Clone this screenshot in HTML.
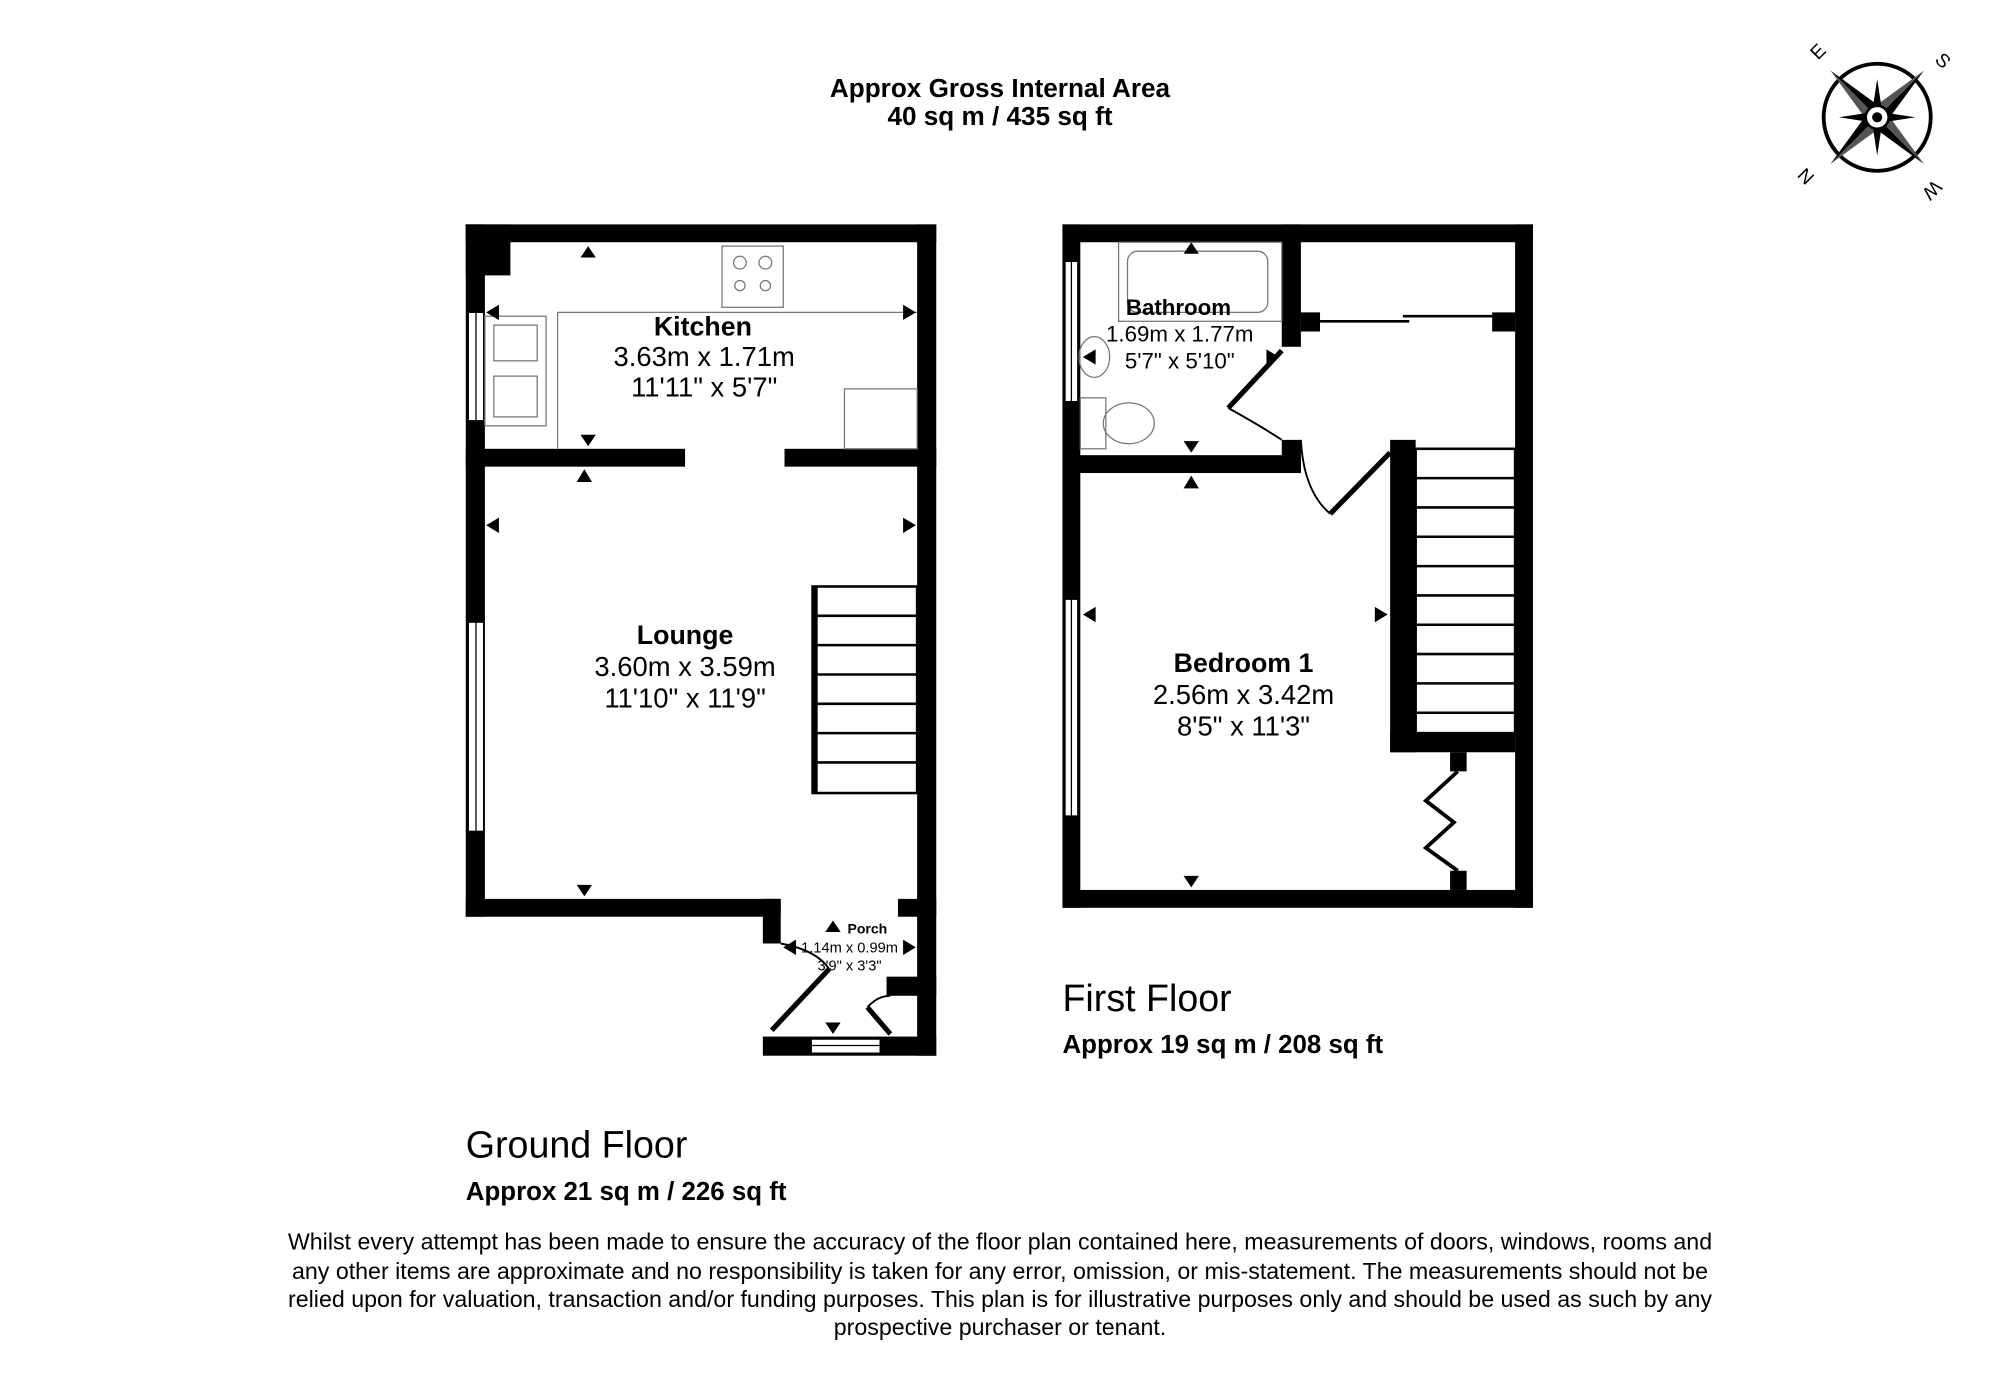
<!DOCTYPE html>
<html><head><style>html,body{margin:0;padding:0;background:#fff}svg{display:block}text{font-family:"Liberation Sans",Arial,sans-serif}</style></head>
<body>
<svg width="2000" height="1377" viewBox="0 0 1568 1080" xmlns="http://www.w3.org/2000/svg">
<rect width="1568" height="1080" fill="#fff"/>
<g text-anchor="middle" font-weight="bold" font-size="20.5">
<text x="784" y="76">Approx Gross Internal Area</text>
<text x="784" y="98">40 sq m / 435 sq ft</text>
</g>
<!-- compass -->
<g transform="translate(1472,92)">
<circle r="42" fill="none" stroke="#000" stroke-width="3"/>
<g transform="rotate(-45)">
<polygon points="0,-52 7,-7 0,0" fill="#000"/><polygon points="0,-52 -7,-7 0,0" fill="#555"/>
<polygon points="0,52 -7,7 0,0" fill="#000"/><polygon points="0,52 7,7 0,0" fill="#555"/>
<polygon points="52,0 7,7 0,0" fill="#000"/><polygon points="52,0 7,-7 0,0" fill="#555"/>
<polygon points="-52,0 -7,-7 0,0" fill="#000"/><polygon points="-52,0 -7,7 0,0" fill="#555"/>
</g>
<polygon points="0,-30 4,-4 0,0 -4,-4" fill="#000"/><polygon points="0,30 4,4 0,0 -4,4" fill="#000"/>
<polygon points="30,0 4,4 0,0 4,-4" fill="#000"/><polygon points="-30,0 -4,4 0,0 -4,-4" fill="#000"/>
<circle r="9" fill="#fff" stroke="#000" stroke-width="2"/><circle r="4" fill="#000"/>
<text x="-50" y="-43" font-size="15" transform="rotate(-45 -50 -48)">E</text>
<text x="48" y="-43" font-size="15" transform="rotate(45 48 -48)">S</text>
<text x="-52" y="55" font-size="15" transform="rotate(-135 -52 50)">N</text>
<text x="48" y="57" font-size="15" transform="rotate(135 48 52)">W</text>
</g>

<!-- GROUND FLOOR -->
<g fill="#000">
<rect x="365" y="176" width="369" height="14"/>
<rect x="365" y="176" width="15" height="543"/>
<rect x="365" y="176" width="35" height="40"/>
<rect x="719" y="176" width="15" height="652"/>
<rect x="365" y="705" width="247" height="14"/>
<rect x="598" y="705" width="14" height="35"/>
<rect x="365" y="352" width="172" height="14"/>
<rect x="615" y="352" width="119" height="14"/>
<rect x="598" y="813" width="136" height="15"/>
<rect x="704" y="705" width="30" height="14"/>
<rect x="695" y="766" width="39" height="15"/>
</g>
<rect x="367" y="245" width="12" height="85" fill="#fff" stroke="#000" stroke-width="1"/>
<line x1="373" y1="245" x2="373" y2="330" stroke="#000"/>
<rect x="367" y="488" width="12" height="164" fill="#fff" stroke="#000" stroke-width="1"/>
<line x1="373" y1="488" x2="373" y2="652" stroke="#000"/>
<rect x="636" y="815" width="54" height="11" fill="#fff" stroke="#000"/>
<line x1="636" y1="820" x2="690" y2="820" stroke="#000"/>
<g fill="none" stroke="#777" stroke-width="1">
<line x1="437" y1="245" x2="719" y2="245"/>
<line x1="437" y1="245" x2="437" y2="352"/>
<rect x="380" y="248" width="48" height="86"/>
<rect x="387" y="255" width="34" height="28"/><rect x="387" y="295" width="34" height="32"/>
<rect x="566" y="193" width="48" height="48"/>
<circle cx="580" cy="206" r="5"/><circle cx="600" cy="206" r="5"/><circle cx="580" cy="224" r="4"/><circle cx="600" cy="224" r="4"/>
<rect x="662" y="305" width="57" height="47"/>
</g>
<g fill="none" stroke="#000" stroke-width="2">
<rect x="637" y="460" width="82" height="162"/>
<line x1="637" y1="483" x2="719" y2="483"/><line x1="637" y1="506" x2="719" y2="506"/>
<line x1="637" y1="529" x2="719" y2="529"/><line x1="637" y1="552" x2="719" y2="552"/>
<line x1="637" y1="575" x2="719" y2="575"/><line x1="637" y1="598" x2="719" y2="598"/>
</g>
<rect x="637" y="460" width="4" height="162" fill="#000"/>
<line x1="605" y1="808" x2="650" y2="760" stroke="#000" stroke-width="4"/>
<path d="M612 740 Q640 745 650 760" fill="none" stroke="#000" stroke-width="1.5"/>
<line x1="680" y1="790" x2="698" y2="811" stroke="#000" stroke-width="4"/>
<path d="M680 790 Q688 781 698 781" fill="none" stroke="#000" stroke-width="1.5"/>
<g fill="#000">
<polygon points="461,193 467,202 455,202"/><polygon points="461,350 467,341 455,341"/>
<polygon points="458,368 464,378 452,378"/>
<polygon points="381,245 391,239 391,251"/><polygon points="718,245 708,239 708,251"/>
<polygon points="381,412 391,406 391,418"/><polygon points="718,412 708,406 708,418"/>
<polygon points="458,703 464,694 452,694"/>
<polygon points="653,722 659,731 647,731"/><polygon points="614,743 624,737 624,749"/>
<polygon points="718,743 708,737 708,749"/><polygon points="653,811 659,802 647,802"/>
</g>
<g text-anchor="middle">
<text x="551" y="263" font-size="21" font-weight="bold">Kitchen</text>
<text x="552" y="287" font-size="21.5">3.63m x 1.71m</text>
<text x="552" y="311" font-size="21.5">11'11" x 5'7"</text>
<text x="537" y="505" font-size="21" font-weight="bold">Lounge</text>
<text x="537" y="530" font-size="21.5">3.60m x 3.59m</text>
<text x="537" y="555" font-size="21.5">11'10" x 11'9"</text>
<text x="680" y="732" font-size="11" font-weight="bold">Porch</text>
<text x="666" y="747" font-size="11.5">1.14m x 0.99m</text>
<text x="666" y="761" font-size="11.5">3'9" x 3'3"</text>
</g>
<text x="365" y="908" font-size="29.5">Ground Floor</text>
<text x="365" y="941" font-size="20.3" font-weight="bold">Approx 21 sq m / 226 sq ft</text>

<!-- FIRST FLOOR -->
<g fill="#000">
<rect x="833" y="176" width="369" height="14"/>
<rect x="833" y="176" width="14" height="536"/>
<rect x="1188" y="176" width="14" height="536"/>
<rect x="833" y="698" width="369" height="14"/>
<rect x="1005" y="176" width="15" height="96"/>
<rect x="1020" y="245" width="15" height="15"/>
<rect x="1170" y="245" width="18" height="15"/>
<rect x="833" y="357" width="187" height="14"/>
<rect x="1005" y="345" width="15" height="26"/>
<rect x="1090" y="345" width="20" height="245"/>
<rect x="1090" y="575" width="98" height="15"/>
<rect x="1137" y="590" width="13" height="15"/>
<rect x="1137" y="683" width="13" height="15"/>
</g>
<rect x="835" y="205" width="10" height="110" fill="#fff" stroke="#000"/>
<line x1="840" y1="205" x2="840" y2="315" stroke="#000"/>
<rect x="835" y="470" width="10" height="170" fill="#fff" stroke="#000"/>
<line x1="840" y1="470" x2="840" y2="640" stroke="#000"/>
<line x1="1035" y1="252" x2="1105" y2="252" stroke="#000" stroke-width="2"/>
<line x1="1100" y1="248" x2="1170" y2="248" stroke="#000" stroke-width="2"/>
<g fill="none" stroke="#777" stroke-width="1">
<rect x="877" y="190" width="128" height="62"/>
<rect x="884" y="197" width="110" height="48" rx="8"/>
<rect x="847" y="312" width="20" height="40"/>
<ellipse cx="885" cy="332" rx="20" ry="16"/>
<ellipse cx="858" cy="280" rx="12" ry="16"/>
</g>
<line x1="963" y1="320" x2="1005" y2="275" stroke="#000" stroke-width="4"/>
<path d="M963 320 Q990 335 1005 345" fill="none" stroke="#000" stroke-width="1.5"/>
<line x1="1043" y1="403" x2="1090" y2="355" stroke="#000" stroke-width="4"/>
<path d="M1020 345 Q1022 385 1043 403" fill="none" stroke="#000" stroke-width="1.5"/>
<polyline points="1143,605 1118,628 1140,645 1118,665 1143,683" fill="none" stroke="#000" stroke-width="3"/>
<g fill="none" stroke="#000" stroke-width="2">
<rect x="1110" y="352" width="78" height="223"/>
<line x1="1110" y1="375" x2="1188" y2="375"/><line x1="1110" y1="398" x2="1188" y2="398"/>
<line x1="1110" y1="421" x2="1188" y2="421"/><line x1="1110" y1="444" x2="1188" y2="444"/>
<line x1="1110" y1="467" x2="1188" y2="467"/><line x1="1110" y1="490" x2="1188" y2="490"/>
<line x1="1110" y1="513" x2="1188" y2="513"/><line x1="1110" y1="536" x2="1188" y2="536"/>
<line x1="1110" y1="559" x2="1188" y2="559"/>
</g>
<g fill="#000">
<polygon points="934,190 940,199 928,199"/><polygon points="934,355 940,346 928,346"/>
<polygon points="934,373 940,383 928,383"/><polygon points="934,696 940,687 928,687"/>
<polygon points="849,280 859,274 859,286"/><polygon points="1003,280 993,274 993,286"/>
<polygon points="849,482 859,476 859,488"/><polygon points="1088,482 1078,476 1078,488"/>
</g>
<g text-anchor="middle">
<text x="924" y="247" font-size="17.5" font-weight="bold">Bathroom</text>
<text x="925" y="268" font-size="17.5">1.69m x 1.77m</text>
<text x="925" y="289" font-size="17.5">5'7" x 5'10"</text>
<text x="975" y="527" font-size="21" font-weight="bold">Bedroom 1</text>
<text x="975" y="552" font-size="21.5">2.56m x 3.42m</text>
<text x="975" y="577" font-size="21.5">8'5" x 11'3"</text>
</g>
<text x="833" y="793" font-size="29.5">First Floor</text>
<text x="833" y="826" font-size="20.3" font-weight="bold">Approx 19 sq m / 208 sq ft</text>

<g text-anchor="middle" font-size="18.2">
<text x="784" y="980">Whilst every attempt has been made to ensure the accuracy of the floor plan contained here, measurements of doors, windows, rooms and</text>
<text x="784" y="1003">any other items are approximate and no responsibility is taken for any error, omission, or mis-statement. The measurements should not be</text>
<text x="784" y="1025">relied upon for valuation, transaction and/or funding purposes. This plan is for illustrative purposes only and should be used as such by any</text>
<text x="784" y="1047">prospective purchaser or tenant.</text>
</g>
</svg>
</body></html>
